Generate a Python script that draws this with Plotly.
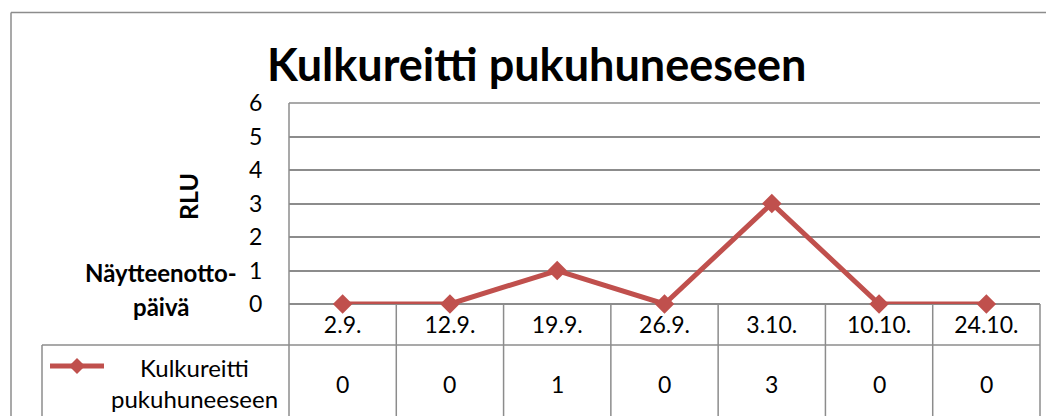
import plotly.graph_objects as go

# data
dates = ['2.9.', '12.9.', '19.9.', '26.9.', '3.10.', '10.10.', '24.10.']
rlu = [0, 0, 1, 0, 3, 0, 0]
series_name = 'Kulkureitti pukuhuneeseen'
title = 'Kulkureitti pukuhuneeseen'
y_title = 'RLU'
x_title = ['Näytteenotto-', 'päivä']

# the page body has an 8px margin, so the figure is a bit smaller
OFF = 8
W, H = 1046, 408
L, R, T, B = 281, 14, 95, 112
RED = '#C0504D'
GRID = '#8c8c8c'
FONT = 'Lato, Calibri, sans-serif'

pw = W - L - R
ph = H - T - B


def xp(px):
    # screen pixel -> paper x
    return (px - OFF - L) / pw


def yp(py):
    # screen pixel -> paper y
    return (OFF + T + ph - py) / ph


fig = go.Figure()
fig.add_trace(go.Scatter(
    x=list(range(len(dates))), y=rlu, mode='lines+markers', name=series_name,
    line=dict(color=RED, width=5),
    marker=dict(symbol='diamond', size=15, color=RED),
    cliponaxis=False, showlegend=False))

shapes = []
line = dict(color=GRID, width=1.5)
# outer chart border
shapes.append(dict(type='line', xref='paper', yref='paper', x0=xp(11), x1=xp(11), y0=yp(12.5), y1=yp(440), line=line))
shapes.append(dict(type='line', xref='paper', yref='paper', x0=xp(11), x1=xp(1070), y0=yp(12.5), y1=yp(12.5), line=line))

# top gridline and left axis line of the plot area
shapes.append(dict(type='line', xref='paper', yref='paper', x0=0, x1=1, y0=1, y1=1, line=line))
shapes.append(dict(type='line', xref='paper', yref='paper', x0=0, x1=0, y0=1, y1=yp(440), line=line))

# data table grid
n = len(dates)
row1 = 345
for i in range(1, n + 1):
    shapes.append(dict(type='line', xref='paper', yref='paper', x0=i / n, x1=i / n,
                       y0=0, y1=yp(440), line=line))
shapes.append(dict(type='line', xref='paper', yref='paper', x0=xp(42), x1=1, y0=yp(row1), y1=yp(row1), line=line))
shapes.append(dict(type='line', xref='paper', yref='paper', x0=xp(42), x1=xp(42), y0=yp(row1), y1=yp(440), line=line))

# legend key in table
shapes.append(dict(type='line', xref='paper', yref='paper', x0=xp(50), x1=xp(104), y0=yp(366), y1=yp(366),
                   line=dict(color=RED, width=5)))
shapes.append(dict(type='path', xref='paper', yref='paper', xsizemode='pixel', ysizemode='pixel',
                   xanchor=xp(77), yanchor=yp(366), path='M -8 0 L 0 8 L 8 0 L 0 -8 Z',
                   fillcolor=RED, line=dict(width=0)))

annotations = []
annotations.append(dict(xref='paper', yref='paper', x=xp(536), y=yp(64), text='<b>' + title + '</b>',
                        showarrow=False, xanchor='center', yanchor='middle',
                        font=dict(family=FONT, size=45, color='black')))
annotations.append(dict(xref='paper', yref='paper', x=xp(188), y=yp(197), text='<b>' + y_title + '</b>',
                        textangle=-90, showarrow=False, xanchor='center', yanchor='middle',
                        font=dict(family=FONT, size=25, color='black')))
for k, t in enumerate(x_title):
    annotations.append(dict(xref='paper', yref='paper', x=xp(161), y=yp(272 + 34 * k), text='<b>' + t + '</b>',
                            showarrow=False, xanchor='center', yanchor='middle',
                            font=dict(family=FONT, size=24, color='black')))
for k, t in enumerate(series_name.split(' ')):
    annotations.append(dict(xref='paper', yref='paper', x=xp(194), y=yp(367 + 31 * k), text=t,
                            showarrow=False, xanchor='center', yanchor='middle',
                            font=dict(family=FONT, size=24, color='black')))
for i, v in enumerate(rlu):
    annotations.append(dict(xref='x', yref='paper', x=i, y=yp(384), text=str(v),
                            showarrow=False, xanchor='center', yanchor='middle',
                            font=dict(family=FONT, size=23, color='black')))

fig.update_layout(
    width=W, height=H,
    margin=dict(l=L, r=R, t=T, b=B, pad=0),
    paper_bgcolor='white', plot_bgcolor='white',
    showlegend=False,
    shapes=shapes,
    annotations=annotations,
    xaxis=dict(
        range=[-0.5, n - 0.5], tickmode='array', tickvals=list(range(n)), ticktext=dates,
        showgrid=False, zeroline=False, showline=False,
        ticks='outside', ticklen=0, ticklabelstandoff=0,
        tickfont=dict(family=FONT, size=23, color='black'),
        fixedrange=True),
    yaxis=dict(
        range=[0, 6], dtick=1, tick0=0,
        showgrid=True, gridcolor=GRID, gridwidth=1.5,
        zeroline=True, zerolinecolor=GRID, zerolinewidth=1.5,
        showline=False,
        ticks='outside', ticklen=0, ticklabelstandoff=21,
        tickfont=dict(family=FONT, size=23, color='black'),
        fixedrange=True),
)

fig.write_html('out.html')
